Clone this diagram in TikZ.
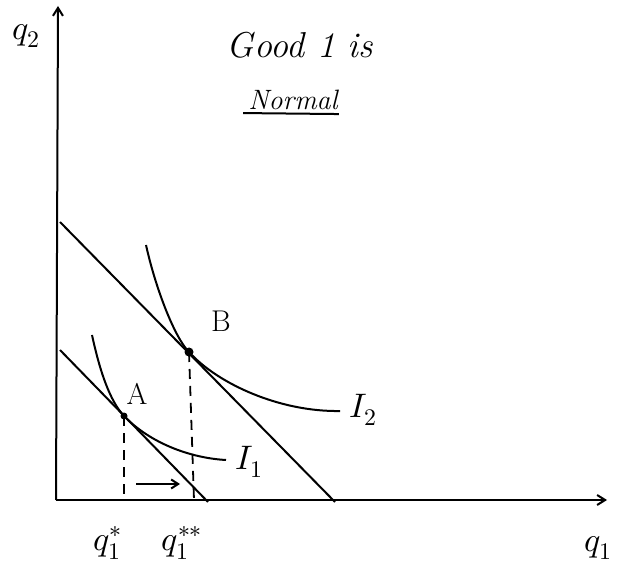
\documentclass[tikz,border=0pt]{standalone}
\usepackage{unicode-math}
\setmathfont{Latin Modern Math}
\usetikzlibrary{arrows.meta}

\begin{document}
\begin{tikzpicture}[x=1pt, y=-1pt]
% Define styles
\tikzset{curve/.style={black, line width=2pt},
         guide/.style={black, line width=1.8pt, dash pattern=on 10pt off 7pt},
         lbl/.style={font=\fontsize{34}{38}\selectfont},
         pointlbl/.style={font=\fontsize{30}{34}\selectfont},
         note/.style={font=\fontsize{36}{42}\selectfont\itshape},
         subnote/.style={font=\fontsize{28}{32}\selectfont\itshape, inner sep=1pt}}

\useasboundingbox (0,0) rectangle (624,577);

% Draw axes
\coordinate (O) at (56,500);
\coordinate (yend) at (58,6);
\coordinate (xend) at (607,500);
\draw[curve, -{Straight Barb[length=8pt, width=10pt]}] (O) -- (yend);
\draw[curve, -{Straight Barb[length=8pt, width=10pt]}] (O) -- (xend);
\node[lbl] (q2) at (26,36) {$q_2$};
\node[lbl] (q1) at (598,548) {$q_1$};

% Budget lines
\coordinate (bl1) at (60,350);
\coordinate (br1) at (208,502);
\coordinate (bl2) at (60,222);
\coordinate (br2) at (335,502);
\draw[curve] (bl1) -- (br1);
\draw[curve] (bl2) -- (br2);

% Tangency points
\coordinate (A) at (124,416);
\coordinate (B) at (189,352);
\fill (A) circle (3.5pt);
\fill (B) circle (4.5pt);
\node[pointlbl] (Alab) at (137,394) {A};
\node[pointlbl] (Blab) at (221,321) {B};

% Indifference curves
\coordinate (i1s) at (92,335);
\coordinate (i1e) at (226,460);
\coordinate (i2s) at (146,245);
\coordinate (i2e) at (340,411);
\draw[curve] (i1s) .. controls (100,372) and (110,401) .. (A)
             .. controls (150,443) and (190,458) .. (i1e);
\draw[curve] (i2s) .. controls (156,290) and (175,338) .. (B)
             .. controls (218,384) and (280,412) .. (i2e);
\node[lbl, anchor=west] (I1) at (232,462) {$I_1$};
\node[lbl, anchor=west] (I2) at (346,410) {$I_2$};

% Dropped lines and quantities
\coordinate (Abase) at (124,500);
\coordinate (Bbase) at (194,500);
\draw[guide] (A) -- (Abase);
\draw[guide] (B) -- (Bbase);
\node[lbl] (qa) at (108,543) {$q_1^{*}$};
\node[lbl] (qb) at (182,543) {$q_1^{**}$};

% Shift arrow
\coordinate (shiftL) at (136,484);
\coordinate (shiftR) at (180,484);
\draw[curve, -{Straight Barb[length=7pt, width=9pt]}] (shiftL) -- (shiftR);

% Title
\node[note] (good) at (300,45) {Good 1 is};
\node[subnote] (normal) at (293,100) {Normal};
\draw[curve] ([xshift=-4pt, yshift=-2pt]normal.south west) -- ([yshift=-3pt]normal.south east);
\end{tikzpicture}
\end{document}
